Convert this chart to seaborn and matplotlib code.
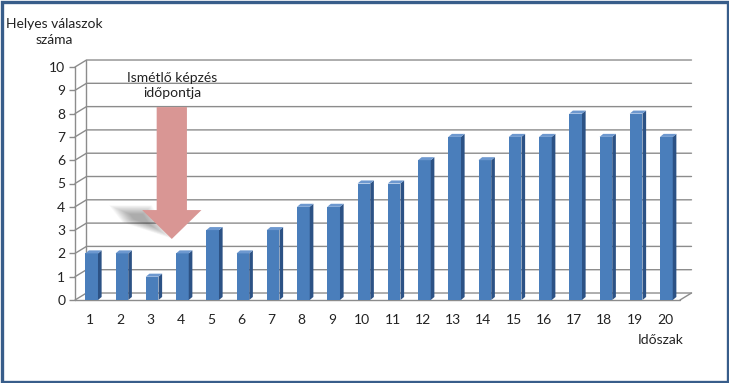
import matplotlib
matplotlib.use("Agg")
import matplotlib.pyplot as plt
import seaborn as sns
import pandas as pd
import numpy as np
from matplotlib.patches import Polygon, Rectangle

categories = [str(i) for i in range(1, 21)]
values = [2, 2, 1, 2, 3, 2, 3, 4, 4, 5, 5, 6, 7, 6, 7, 7, 8, 7, 8, 7]
y_ticks = list(range(0, 11))
y_label = "Helyes válaszok\nszáma"
x_label = "Időszak"
annotation = "Ismétlő képzés\nidőpontja"
arrow_category = 2.7  # position between periods 3 and 4

sns.set_theme(style="white")
plt.rcParams["font.family"] = ["Lato", "DejaVu Sans"]

fig = plt.figure(figsize=(7.29, 3.83), dpi=100)
ax = fig.add_axes([75 / 729, 1 - 300 / 383, 605 / 729, 233 / 383])

df = pd.DataFrame({"period": categories, "value": values})
sns.barplot(data=df, x="period", y="value", color="#4a7ebb", saturation=1,
            width=0.42, ax=ax, zorder=3)

ax.set_xlim(-0.5, len(categories) - 0.5)
ax.set_ylim(0, 10)
for s in ax.spines.values():
    s.set_visible(False)

grid_c = "#8c8c8c"
ddx, ddy = 0.38, 0.30  # wall depth (data units)
x0, x1 = -0.5, len(categories) - 0.5
for v in y_ticks:
    ax.plot([x0, x0 + ddx, x1 + ddx], [v, v + ddy, v + ddy], color=grid_c,
            lw=1.0, clip_on=False, zorder=1)
ax.plot([x0 + ddx, x0 + ddx], [ddy, 10 + ddy], color=grid_c, lw=1.0, clip_on=False, zorder=1)
ax.plot([x0, x0], [0, 10], color=grid_c, lw=1.0, clip_on=False, zorder=2)
ax.plot([x0, x1], [0, 0], color=grid_c, lw=1.0, clip_on=False, zorder=2)
ax.plot([x1, x1 + ddx], [0, ddy], color=grid_c, lw=1.0, clip_on=False, zorder=2)

# 3D faces of bars from the bar geometry
bdx, bdy = 0.12, 0.13
for p in ax.patches:
    p.set_x(p.get_x() + 0.05)
    bx, by = p.get_x(), p.get_y()
    w, h = p.get_width(), p.get_height()
    p.set_edgecolor("none")
    side = Polygon([[bx + w, by], [bx + w + bdx, by + bdy], [bx + w + bdx, by + h + bdy], [bx + w, by + h]],
                   closed=True, facecolor="#2c5285", edgecolor="none", zorder=3)
    top = Polygon([[bx, by + h], [bx + bdx, by + h + bdy], [bx + w + bdx, by + h + bdy], [bx + w, by + h]],
                  closed=True, facecolor="#6d98cf", edgecolor="none", zorder=3)
    ax.add_patch(side)
    ax.add_patch(top)

ax.set_yticks(y_ticks)
ax.set_yticklabels([str(v) for v in y_ticks])
ax.set_xticks(range(len(categories)))
ax.set_xticks([i - 0.5 for i in range(len(categories) + 1)], minor=True)
ax.tick_params(axis="x", which="major", length=0, pad=10, labelsize=10, colors="#222222")
ax.tick_params(axis="x", which="minor", length=4, color=grid_c, width=1, direction="out")
ax.tick_params(axis="y", which="major", length=4, color=grid_c, width=1, direction="out",
               labelsize=10, colors="#222222", pad=3, left=True)
ax.set_xlabel("")
ax.set_ylabel("")

# soft arrow shadow
cx = arrow_category
shadow_shape = np.array([[cx - 1.94, 3.99], [cx - 0.72, 3.99], [cx - 0.13, 2.75], [cx - 1.55, 3.35]])
center = shadow_shape.mean(axis=0)
for k in range(14):
    scale = 1.15 - k * 0.06
    pts = center + (shadow_shape - center) * np.array([scale, scale])
    ax.add_patch(Polygon(pts, closed=True, facecolor="#3a3a3a", edgecolor="none",
                         alpha=0.035, zorder=4))

arrow = Polygon([[cx - 0.5, 8.28], [cx + 0.5, 8.28], [cx + 0.5, 3.86], [cx + 0.98, 3.86],
                 [cx, 2.62], [cx - 0.98, 3.86], [cx - 0.5, 3.86]],
                closed=True, facecolor="#d99694", edgecolor="none", zorder=5)
ax.add_patch(arrow)
ax.text(cx, 9.2, annotation, ha="center", va="center", fontsize=10,
        color="#222222", linespacing=1.3, zorder=6)

fig.text(54 / 729, 1 - 32 / 383, y_label, ha="center", va="center", fontsize=10,
         color="#222222", linespacing=1.45)
fig.text(661 / 729, 1 - 340 / 383, x_label, ha="center", va="center", fontsize=10,
         color="#222222")

border = Rectangle((1.5 / 729, 1.5 / 383), 1 - 3 / 729, 1 - 3 / 383, transform=fig.transFigure,
                   fill=False, edgecolor="#385d8a", linewidth=2.4, zorder=10)
fig.add_artist(border)

fig.savefig("out.png", dpi=100, facecolor="white")
